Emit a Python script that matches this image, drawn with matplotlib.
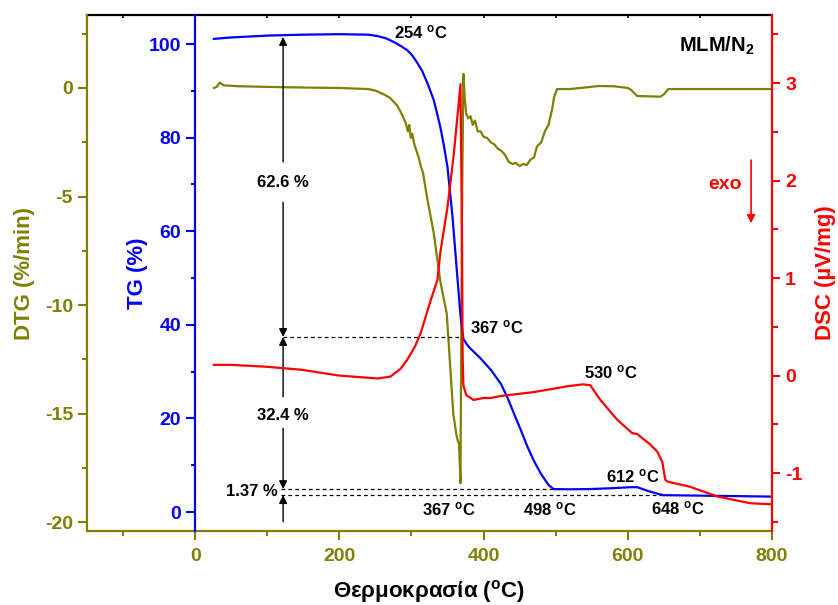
import matplotlib
matplotlib.use("Agg")
import matplotlib.pyplot as plt
from matplotlib.ticker import MultipleLocator

plt.rcParams['font.family'] = ['Liberation Sans', 'DejaVu Sans']
plt.rcParams['font.weight'] = 'bold'
plt.rcParams['axes.labelweight'] = 'bold'
plt.rcParams['axes.unicode_minus'] = False
plt.rcParams['mathtext.fontset'] = 'custom'
plt.rcParams['mathtext.rm'] = 'Liberation Sans:bold'
plt.rcParams['mathtext.it'] = 'Liberation Sans:bold'
plt.rcParams['mathtext.bf'] = 'Liberation Sans:bold'
plt.rcParams['mathtext.default'] = 'rm'

OLIVE = '#808000'
BLUE = '#0000FF'
RED = '#FF0000'

# ---------------- data ----------------
tg_T = [26, 50, 100, 150, 200, 240, 253, 265, 276, 285, 294, 301, 308, 315, 322, 331,
        340, 345, 350, 357, 364, 368, 372, 376, 380, 388, 396, 410, 424, 433, 442,
        452, 461, 470, 479, 490, 497, 520, 548, 580, 603, 613, 630, 649, 700, 797]
tg_val = [101.1, 101.4, 101.8, 102.0, 102.1, 102.0, 101.7, 101.2, 100.4, 99.6, 98.7,
          97.6, 96.0, 94.2, 91.7, 88.0, 82.3, 78.3, 73.7, 63.0, 49.6, 42.0, 37.0, 36.0,
          35.2, 34.0, 32.8, 30.4, 27.4, 24.5, 21.1, 17.4, 13.9, 10.9, 8.3, 5.8, 4.9,
          4.85, 4.9, 5.1, 5.3, 5.3, 4.4, 3.6, 3.5, 3.3]

dsc_T = [26, 50, 100, 147, 200, 253, 271, 285, 294, 305, 313, 327, 336, 340, 350,
         359, 368, 370, 371, 372, 376, 386, 400, 410, 423, 469, 493, 516, 538, 548,
         562, 585, 606, 613, 630, 641, 648, 652, 656, 686, 724, 770, 797]
dsc_val = [0.11, 0.11, 0.09, 0.06, 0.0, -0.03, -0.01, 0.07, 0.16, 0.30, 0.44, 0.78,
           0.98, 1.26, 1.73, 2.29, 2.99, 1.5, 0.2, -0.1, -0.2, -0.25, -0.23, -0.23,
           -0.21, -0.17, -0.14, -0.11, -0.09, -0.10, -0.25, -0.45, -0.59, -0.60, -0.70,
           -0.78, -0.89, -1.07, -1.09, -1.14, -1.24, -1.31, -1.32]

dtg_T = [26, 30, 34, 40, 60, 100, 150, 200, 240, 250, 262, 270, 280, 285, 292, 295,
         297, 299, 301, 304, 310, 313, 316, 322, 331, 340, 349, 358, 363, 366, 368,
         370, 372, 374, 376, 379, 382, 385, 388, 392, 396, 400, 405, 410, 415, 420,
         425, 430, 435, 440, 445, 450, 455, 460, 465, 470, 474, 480, 485, 490, 495,
         498, 502, 520, 560, 580, 600, 605, 613, 645, 650, 656, 700, 800]
dtg_val = [0.0, 0.05, 0.25, 0.12, 0.08, 0.05, 0.02, 0.0, -0.05, -0.12, -0.3, -0.45,
           -0.8, -1.1, -1.6, -2.0, -1.7, -2.3, -2.1, -2.6, -3.2, -3.6, -3.9, -5.1,
           -6.7, -8.9, -10.4, -15.0, -16.1, -16.4, -18.2, -6.0, 0.65, -0.5, -1.2,
           -1.4, -1.3, -1.7, -1.5, -2.0, -2.0, -2.25, -2.3, -2.5, -2.6, -2.8, -2.9,
           -3.1, -3.4, -3.5, -3.45, -3.6, -3.5, -3.55, -3.3, -3.2, -2.7, -2.5, -2.0,
           -1.7, -1.0, -0.4, -0.05, -0.05, 0.09, 0.08, 0.0, -0.1, -0.37, -0.4, -0.3,
           -0.05, -0.05, -0.05]

x_ticks = [0, 200, 400, 600, 800]
dtg_ticks = [-20, -15, -10, -5, 0]
tg_ticks = [0, 20, 40, 60, 80, 100]
dsc_ticks = [-1, 0, 1, 2, 3]

# ---------------- figure ----------------
fig = plt.figure(figsize=(8.38, 6.05), dpi=100)
ax = fig.add_axes([0.1038, 0.1223, 0.8174, 0.8529])
ax.set_xlim(-150, 800)
ax.set_ylim(-20.4, 3.36)
ax.plot(dtg_T, dtg_val, color=OLIVE, lw=1.6, zorder=3)

for s in ['right', 'top']:
    ax.spines[s].set_visible(False)
ax.spines['left'].set_color(OLIVE)
ax.spines['bottom'].set_color(OLIVE)
ax.spines['left'].set_linewidth(1.6)
ax.spines['bottom'].set_linewidth(1.6)
ax.set_xticks(x_ticks)
ax.xaxis.set_minor_locator(MultipleLocator(100))
ax.set_yticks(dtg_ticks)
ax.yaxis.set_minor_locator(MultipleLocator(2.5))
ax.tick_params(axis='both', which='major', direction='out', length=6.5, width=1.5,
               colors=OLIVE, labelsize=14, pad=3.5)
ax.tick_params(axis='x', which='major', pad=6)
ax.tick_params(axis='both', which='minor', direction='out', length=3.5, width=1.5,
               colors=OLIVE)
ax.set_ylabel('DTG (%/min)', color=OLIVE, fontsize=16)
ax.yaxis.set_label_coords(-0.076, 0.5)
ax.set_xlabel('Θερμοκρασία ($^{o}$C)', color='black', fontsize=16)
ax.xaxis.set_label_coords(0.5, -0.092)

# top black spine with inward ticks
sec = ax.secondary_xaxis('top')
sec.set_xticks(list(range(-100, 801, 100)))
sec.tick_params(direction='in', length=2.5, width=1.2, colors='black', labeltop=False)
sec.spines['top'].set_color('black')
sec.spines['top'].set_linewidth(1.6)

# TG axis
ax_tg = ax.twinx()
ax_tg.set_ylim(-4.06, 106.2)
ax_tg.plot(tg_T, tg_val, color=BLUE, lw=1.6, zorder=3)
for s in ['right', 'top', 'bottom']:
    ax_tg.spines[s].set_visible(False)
ax_tg.spines['left'].set_visible(True)
ax_tg.spines['left'].set_position(('data', 0))
ax_tg.spines['left'].set_color(BLUE)
ax_tg.spines['left'].set_linewidth(1.6)
ax_tg.yaxis.tick_left()
ax_tg.yaxis.set_label_position('left')
ax_tg.set_yticks(tg_ticks)
ax_tg.yaxis.set_minor_locator(MultipleLocator(10))
ax_tg.tick_params(axis='y', which='major', direction='out', length=6.5, width=1.5,
                  colors=BLUE, labelsize=14, pad=3.5)
ax_tg.tick_params(axis='y', which='minor', direction='out', length=3.0, width=1.5,
                  colors=BLUE)
ax_tg.set_ylabel('TG (%)', color=BLUE, fontsize=16)
ax_tg.yaxis.set_label_coords(0.089, 0.5)

# DSC axis
ax_dsc = ax.twinx()
ax_dsc.set_ylim(-1.595, 3.70)
ax_dsc.plot(dsc_T, dsc_val, color=RED, lw=1.6, zorder=2)
for s in ['left', 'top', 'bottom']:
    ax_dsc.spines[s].set_visible(False)
ax_dsc.spines['right'].set_color(RED)
ax_dsc.spines['right'].set_linewidth(1.6)
ax_dsc.set_yticks(dsc_ticks)
ax_dsc.yaxis.set_minor_locator(MultipleLocator(0.5))
ax_dsc.tick_params(axis='y', which='major', direction='out', length=6.0, width=1.5,
                   colors=RED, labelsize=14, pad=3.5)
ax_dsc.tick_params(axis='y', which='minor', direction='out', length=4.0, width=1.5,
                   colors=RED)
ax_dsc.set_ylabel('DSC (µV/mg)', color=RED, fontsize=16)
ax_dsc.yaxis.set_label_coords(1.063, 0.5)

# ---------------- annotations (T, TG coords) ----------------
A = ax_tg
dash = dict(color='black', lw=0.9, dashes=(3, 2.5))
A.plot([122, 371], [37.4, 37.4], **dash)
A.plot([119, 497], [4.9, 4.9], **dash)
A.plot([119, 655], [3.6, 3.6], **dash)

arr = dict(arrowstyle='-|>', color='black', lw=1.0, mutation_scale=12,
           shrinkA=0, shrinkB=0)
A.annotate('', xy=(122, 101.5), xytext=(122, 74.8), arrowprops=arr)
A.annotate('', xy=(122, 37.4), xytext=(122, 66.2), arrowprops=arr)
A.annotate('', xy=(122, 37.4), xytext=(122, 24.6), arrowprops=arr)
A.annotate('', xy=(122, 4.9), xytext=(122, 17.9), arrowprops=arr)
A.annotate('', xy=(122, 3.6), xytext=(122, -2.1), arrowprops=arr)

fs = 12
A.text(122, 70.5, '62.6 %', ha='center', va='center', fontsize=fs)
A.text(122, 20.7, '32.4 %', ha='center', va='center', fontsize=fs)
A.text(114, 4.3, '1.37 %', ha='right', va='center', fontsize=fs)
A.text(313, 102.6, '254 $^{o}$C', ha='center', va='center', fontsize=fs)
A.text(418, 39.5, '367 $^{o}$C', ha='center', va='center', fontsize=fs)
A.text(351.5, 0.6, '367 $^{o}$C', ha='center', va='center', fontsize=fs)
A.text(492, 0.6, '498 $^{o}$C', ha='center', va='center', fontsize=fs)
A.text(576, 29.9, '530 $^{o}$C', ha='center', va='center', fontsize=fs)
A.text(607.6, 7.7, '612 $^{o}$C', ha='center', va='center', fontsize=fs)
A.text(670, 0.8, '648 $^{o}$C', ha='center', va='center', fontsize=fs)
A.text(776, 99.6, 'MLM/N$_{2}$', ha='right', va='center', fontsize=14.5)
A.text(735, 69.9, 'exo', ha='center', va='center', fontsize=14, color=RED)
A.annotate('', xy=(771, 61.7), xytext=(771, 75.2),
           arrowprops=dict(arrowstyle='-|>', color=RED, lw=1.2, mutation_scale=12,
                           shrinkA=0, shrinkB=0))

fig.savefig('out.png', dpi=100)
